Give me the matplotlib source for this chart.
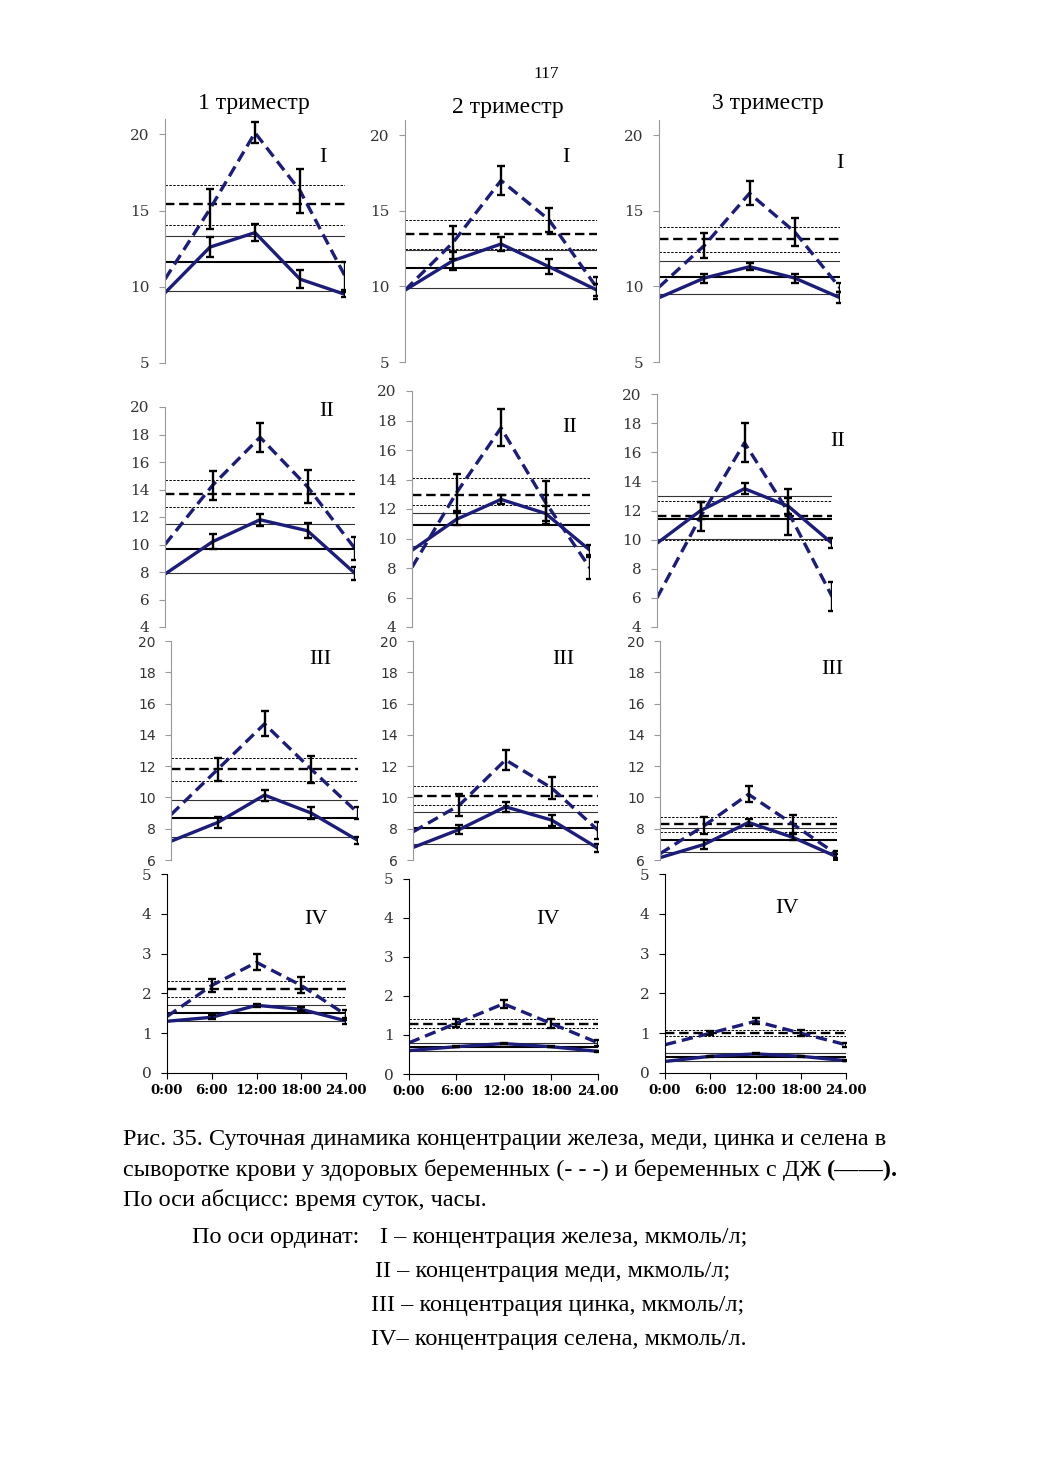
import numpy as np
import matplotlib
matplotlib.use("Agg")
import matplotlib.pyplot as plt

# время суток
hours = [0, 6, 12, 18, 24]
hour_labels = ["0:00", "6:00", "12:00", "18:00", "24.00"]

# I - железо (по триместрам), здоровые (пунктир) и ДЖ (сплошная)
fe_healthy = [[10.5, 15.1, 20.1, 16.3, 10.7],
              [9.75, 12.9, 17.0, 14.4, 9.9],
              [9.95, 12.7, 16.15, 13.6, 9.9]]
fe_healthy_err = [[0, 1.3, 0.7, 1.45, 0.9],
                  [0, 1.1, 0.95, 0.8, 0.75],
                  [0, 0.85, 0.8, 0.95, 0.3]]
fe_dj = [[9.6, 12.6, 13.55, 10.5, 9.5],
         [9.75, 11.7, 12.8, 11.3, 9.75],
         [9.25, 10.55, 11.3, 10.55, 9.25]]
fe_dj_err = [[0, 0.65, 0.55, 0.6, 0.15],
             [0, 0.6, 0.45, 0.5, 0.4],
             [0, 0.3, 0.25, 0.3, 0.35]]
fe_healthy_lvl = [[16.7, 15.4, 14.05], [14.4, 13.45, 12.5], [13.9, 13.1, 12.3]]
fe_dj_lvl = [[13.35, 11.6, 9.75], [12.4, 11.2, 9.9], [11.7, 10.6, 9.5]]

# II - медь
cu_healthy = [[10.0, 14.3, 17.8, 14.2, 9.7],
              [8.05, 13.1, 17.5, 12.45, 8.0],
              [6.0, 11.6, 16.65, 11.9, 6.1]]
cu_healthy_err = [[0, 1.05, 1.05, 1.2, 0.85],
                  [0, 1.25, 1.25, 1.45, 0.75],
                  [0, 1.0, 1.35, 1.6, 1.0]]
cu_dj = [[7.85, 10.2, 11.8, 11.0, 7.9],
         [9.2, 11.3, 12.65, 11.7, 9.2],
         [9.75, 12.0, 13.5, 12.3, 9.75]]
cu_dj_err = [[0, 0.55, 0.45, 0.55, 0.5],
             [0, 0.4, 0.3, 0.5, 0.35],
             [0, 0.6, 0.4, 0.55, 0.35]]
cu_healthy_lvl = [[14.7, 13.7, 12.7], [14.1, 12.95, 12.3], [12.65, 11.6, 10.0]]
cu_dj_lvl = [[11.5, 9.7, 7.9], [11.7, 10.9, 9.5], [13.0, 11.4, 10.05]]

# III - цинк
zn_healthy = [[8.9, 11.8, 14.7, 11.8, 9.0],
              [7.8, 9.5, 12.4, 10.6, 7.9],
              [6.4, 8.2, 10.2, 8.3, 6.35]]
zn_healthy_err = [[0, 0.75, 0.8, 0.85, 0.4],
                  [0, 0.7, 0.65, 0.7, 0.55],
                  [0, 0.55, 0.5, 0.6, 0.2]]
zn_dj = [[7.2, 8.4, 10.15, 9.0, 7.25],
         [6.8, 7.95, 9.4, 8.55, 6.75],
         [6.15, 7.0, 8.4, 7.45, 6.2]]
zn_dj_err = [[0, 0.35, 0.35, 0.4, 0.25],
             [0, 0.3, 0.3, 0.35, 0.25],
             [0, 0.3, 0.25, 0.2, 0.2]]
zn_healthy_lvl = [[12.5, 11.8, 11.07], [10.7, 10.1, 9.5], [8.77, 8.3, 7.8]]
zn_dj_lvl = [[9.85, 8.67, 7.45], [9.07, 8.07, 7.0], [8.07, 7.28, 6.5]]

# IV - селен
se_healthy = [[1.42, 2.2, 2.78, 2.2, 1.46],
              [0.8, 1.3, 1.8, 1.3, 0.8],
              [0.71, 1.0, 1.3, 1.0, 0.71]]
se_healthy_err = [[0, 0.17, 0.2, 0.2, 0.12],
                  [0, 0.1, 0.1, 0.12, 0.08],
                  [0, 0.05, 0.07, 0.07, 0.05]]
se_dj = [[1.3, 1.4, 1.7, 1.6, 1.31],
         [0.6, 0.7, 0.78, 0.7, 0.58],
         [0.29, 0.42, 0.48, 0.42, 0.31]]
se_dj_err = [[0, 0.05, 0.04, 0.05, 0.08],
             [0, 0.02, 0.02, 0.02, 0.02],
             [0, 0.01, 0.01, 0.01, 0.01]]
se_healthy_lvl = [[2.3, 2.12, 1.9], [1.4, 1.28, 1.17], [1.08, 1.0, 0.92]]
se_dj_lvl = [[1.7, 1.5, 1.3], [0.79, 0.69, 0.59], [0.5, 0.4, 0.3]]

trimesters = ["1 триместр", "2 триместр", "3 триместр"]
roman = ["I", "II", "III", "IV"]
yticks_rows = [[5, 10, 15, 20], list(range(4, 21, 2)), list(range(6, 21, 2)), [0, 1, 2, 3, 4, 5]]

elements = [
    (fe_healthy, fe_healthy_err, fe_dj, fe_dj_err, fe_healthy_lvl, fe_dj_lvl),
    (cu_healthy, cu_healthy_err, cu_dj, cu_dj_err, cu_healthy_lvl, cu_dj_lvl),
    (zn_healthy, zn_healthy_err, zn_dj, zn_dj_err, zn_healthy_lvl, zn_dj_lvl),
    (se_healthy, se_healthy_err, se_dj, se_dj_err, se_healthy_lvl, se_dj_lvl),
]

# layout in pixels: left, right, px of ylim bottom, px of ylim top, ylim
W, H = 1040, 1471
boxes = [
    [(165, 345, 363, 119, (5, 21)), (405, 597, 362, 120, (5, 21)), (659, 840, 362, 120, (5, 21))],
    [(165, 355, 627, 407, (4, 20)), (412, 590, 627, 391, (4, 20)), (657, 832, 627, 394, (4, 20))],
    [(171, 358, 860, 641, (6, 20)), (413, 598, 860, 641, (6, 20)), (660, 837, 860, 641, (6, 20))],
    [(167, 346, 1073, 874, (0, 5)), (409, 598, 1074, 879, (0, 5)), (665, 846, 1073, 874, (0, 5))],
]
label_pos = [[(323, 157), (566, 157), (840, 163)],
             [(327, 412), (570, 427), (838, 442)],
             [(320, 660), (563, 660), (832, 670)],
             [(316, 920), (548, 920), (787, 908)]]

navy = "#1c1c7a"
serif = ["Liberation Serif", "DejaVu Serif"]

fig = plt.figure(figsize=(W / 100, H / 100), dpi=100)
fig.patch.set_facecolor("white")

for r in range(4):
    h, herr, d, derr, hlvl, dlvl = elements[r]
    for c in range(3):
        l, rt, yb, yt, ylim = boxes[r][c]
        ax = fig.add_axes([l / W, 1 - yb / H, (rt - l) / W, (yb - yt) / H])
        ax.set_xlim(0, 24)
        ax.set_ylim(*ylim)
        ax.patch.set_alpha(0)

        # средние уровни и границы
        ax.axhline(hlvl[c][0], color="black", lw=0.7, dashes=(2.5, 1.5))
        ax.axhline(hlvl[c][2], color="black", lw=0.7, dashes=(2.5, 1.5))
        ax.axhline(hlvl[c][1], color="black", lw=1.7, dashes=(4, 2))
        ax.axhline(dlvl[c][0], color="#333333", lw=0.8)
        ax.axhline(dlvl[c][2], color="#333333", lw=0.8)
        ax.axhline(dlvl[c][1], color="black", lw=1.5)

        ax.plot(hours, h[c], color=navy, lw=2.4, dashes=(3.4, 1.8))
        ax.plot(hours, d[c], color=navy, lw=2.4)
        ax.errorbar(hours[1:], h[c][1:], yerr=herr[c][1:], fmt="none",
                    ecolor="black", elinewidth=1.7, capsize=3, capthick=1.7)
        ax.errorbar(hours[1:], d[c][1:], yerr=derr[c][1:], fmt="none",
                    ecolor="black", elinewidth=1.7, capsize=3, capthick=1.7)

        ax.spines["top"].set_visible(False)
        ax.spines["right"].set_visible(False)
        ax.set_yticks(yticks_rows[r])
        if r == 2:
            tfont = {"family": "DejaVu Sans", "size": 10}
        else:
            tfont = {"family": "DejaVu Serif", "size": 11}
        ax.set_yticklabels([str(v) for v in yticks_rows[r]], fontdict=tfont, color="#333333")
        if r < 3:
            ax.spines["bottom"].set_visible(False)
            ax.spines["left"].set_color("#999999")
            ax.tick_params(axis="y", length=4, color="#999999", pad=7)
            ax.set_xticks([])
        else:
            ax.spines["left"].set_color("black")
            ax.spines["bottom"].set_color("black")
            ax.tick_params(axis="y", length=4, color="black", pad=7)
            ax.tick_params(axis="x", length=4, color="black", pad=4)
            ax.set_xticks(hours)
            ax.set_xticklabels(hour_labels, family="DejaVu Serif", weight="bold", size=9.5)

        lx, ly = label_pos[r][c]
        fig.text(lx / W, 1 - ly / H, roman[r], family=serif, size=16,
                 ha="center", va="center")

for c, (x, y) in enumerate([(254, 104), (508, 108), (768, 104)]):
    fig.text(x / W, 1 - y / H, trimesters[c], family=serif, size=17, ha="center", va="center")

fig.text(546 / W, 1 - 74 / H, "117", family=serif, size=12.5, ha="center", va="center")

cap = 17.5
fig.text(123 / W, 1 - 1140 / H,
         "Рис. 35. Суточная динамика концентрации железа, меди, цинка и селена в",
         family=serif, size=cap, va="center")
t2 = fig.text(123 / W, 1 - 1170 / H,
              "сыворотке крови у здоровых беременных (- - -) и беременных с ДЖ ",
              family=serif, size=cap, va="center")
ax.annotate("(\u2014\u2014).", xy=(1.0, 0.5), xycoords=t2, family=serif, size=cap,
            weight="bold", va="center", ha="left", annotation_clip=False)
fig.text(123 / W, 1 - 1200 / H, "По оси абсцисс: время суток, часы.",
         family=serif, size=cap, va="center")
fig.text(192 / W, 1 - 1237 / H, "По оси ординат:", family=serif, size=cap, va="center")
fig.text(380 / W, 1 - 1237 / H, "I – концентрация железа, мкмоль/л;", family=serif, size=cap, va="center")
fig.text(375 / W, 1 - 1272 / H, "II – концентрация меди, мкмоль/л;", family=serif, size=cap, va="center")
fig.text(371 / W, 1 - 1306 / H, "III – концентрация цинка, мкмоль/л;", family=serif, size=cap, va="center")
fig.text(371 / W, 1 - 1340 / H, "IV– концентрация селена, мкмоль/л.", family=serif, size=cap, va="center")

fig.savefig("out.png", dpi=100)
